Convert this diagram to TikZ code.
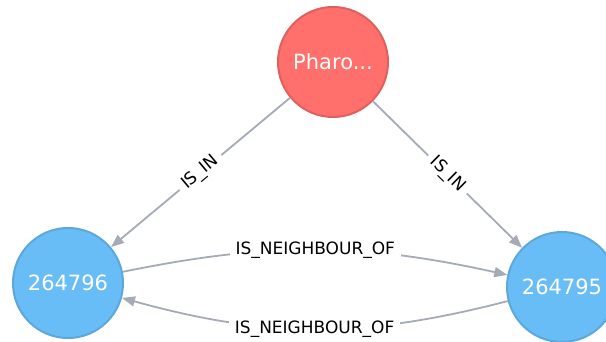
\documentclass[tikz,border=0pt]{standalone}
\usepackage{fontspec}
\setmainfont{DejaVu Sans}
\usetikzlibrary{arrows.meta}
\definecolor{edgegray}{HTML}{A5ABB6}
\definecolor{redfill}{HTML}{FF6F6B}
\definecolor{redline}{HTML}{E0605E}
\definecolor{bluefill}{HTML}{68BDF6}
\definecolor{blueline}{HTML}{5CA8DB}
\tikzset{
  gnode/.style={circle, minimum size=110pt, inner sep=0pt, line width=2pt, text=white, font=\fontsize{21}{24}\selectfont},
  rednode/.style={gnode, fill=redfill, draw=redline},
  bluenode/.style={gnode, fill=bluefill, draw=blueline},
  rel/.style={draw=edgegray, line width=1.8pt, -{Triangle[length=13pt,width=10pt]}},
  rellabel/.style={fill=white, text=black, inner xsep=6pt, inner ysep=1pt, font=\fontsize{17}{20}\selectfont}
}
\begin{document}
\begin{tikzpicture}[x=1pt,y=-1pt]
\useasboundingbox (0,0) rectangle (606,342);
\clip (0,0) rectangle (606,342);
\fill[white] (0,0) rectangle (606,342);
\node[rednode] (ph) at (333,62) {Pharo...};
\node[bluenode] (a) at (68,283) {264796};
\node[bluenode] (b) at (562,287) {264795};
\draw[rel] (ph) -- node[rellabel, midway, sloped] {IS\_IN} (a);
\draw[rel] (ph) -- node[rellabel, midway, sloped] {IS\_IN} (b);
\draw[rel] (a) to[bend left=12] node[rellabel, midway] {IS\_NEIGHBOUR\_OF} (b);
\draw[rel] (b) to[bend left=15] node[rellabel, midway] {IS\_NEIGHBOUR\_OF} (a);
\end{tikzpicture}
\end{document}
